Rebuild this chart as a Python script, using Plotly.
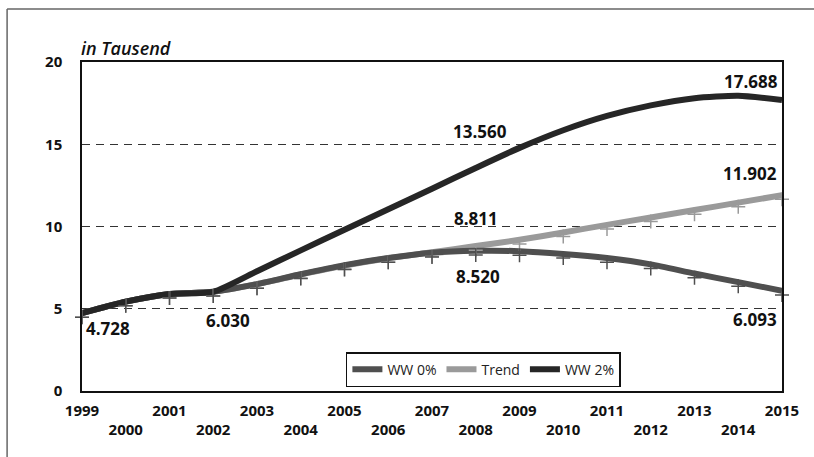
import plotly.graph_objects as go

# ---------------- data ----------------
years = list(range(1999, 2016))
ww0 = [4.728, 5.43, 5.90, 6.030, 6.50, 7.10, 7.65, 8.08, 8.40, 8.520, 8.50, 8.33, 8.08, 7.70, 7.14, 6.62, 6.093]
trend = [4.728, 5.43, 5.90, 6.030, 6.50, 7.08, 7.62, 8.07, 8.43, 8.811, 9.19, 9.64, 10.10, 10.55, 11.00, 11.45, 11.902]
ww2 = [4.728, 5.43, 5.90, 6.030, 7.28, 8.55, 9.80, 11.05, 12.30, 13.560, 14.78, 15.85, 16.72, 17.36, 17.80, 17.95, 17.688]
series_names = ["WW 0%", "Trend", "WW 2%"]
y_tick_vals = [0, 5, 10, 15, 20]
x_tick_labels = [str(y) if (y - 1999) % 2 == 0 else "<br>" + str(y) for y in years]
unit_label = "in Tausend"

# ---------------- style ----------------
FONT = "Open Sans"
C_WW0 = "#4f4f4f"
C_TREND = "#9a9a9a"
C_WW2 = "#262626"
LW = 6

fig = go.Figure()

# plus-shaped markers hanging slightly below the lines (shifted overlay axis)
for vals, col in [(trend, C_TREND), (ww0, C_WW0)]:
    fig.add_trace(go.Scatter(
        x=years, y=vals, mode="markers", yaxis="y2", showlegend=False, hoverinfo="skip",
        marker=dict(symbol="cross-thin", size=10, line=dict(color=col, width=1.5)),
        cliponaxis=False,
    ))

fig.add_trace(go.Scatter(x=years, y=trend, mode="lines", name=series_names[1], legendrank=2,
                         line=dict(color=C_TREND, width=LW, shape="spline", smoothing=0.6)))
fig.add_trace(go.Scatter(x=years, y=ww0, mode="lines", name=series_names[0], legendrank=1,
                         line=dict(color=C_WW0, width=LW, shape="spline", smoothing=0.6)))
fig.add_trace(go.Scatter(x=years, y=ww2, mode="lines", name=series_names[2], legendrank=3,
                         line=dict(color=C_WW2, width=LW, shape="spline", smoothing=0.6)))


def idx(y):
    return years.index(y)


labels = [
    (ww0, 1999, 2, -15, "left"),
    (ww0, 2002, 15, -29, "center"),
    (ww0, 2008, 2, -26, "center"),
    (trend, 2008, 0, 28, "center"),
    (ww2, 2008, 4, 36, "center"),
    (ww2, 2015, -2, 19, "right"),
    (trend, 2015, -3, 22, "right"),
    (ww0, 2015, -3, -29, "right"),
]
annotations = []
for series, yr, xs, ys, xa in labels:
    v = series[idx(yr)]
    annotations.append(dict(
        x=yr, y=v, xref="x", yref="y", text="<b>%.3f</b>" % v, showarrow=False,
        xanchor=xa, yanchor="middle", xshift=xs, yshift=ys,
        font=dict(family=FONT, size=17, color="#111"),
    ))

annotations.append(dict(
    x=0, y=1, xref="paper", yref="paper", text="<i>" + unit_label + "</i>", showarrow=False,
    xanchor="left", yanchor="bottom", yshift=0, xshift=-3,
    font=dict(family=FONT, size=18, color="#111", weight=600),
))

fig.update_layout(
    width=814, height=457,
    margin=dict(l=82, r=32, t=62, b=66),
    paper_bgcolor="white", plot_bgcolor="white",
    showlegend=True,
    legend=dict(
        orientation="h", x=0.377, y=0.118, xanchor="left", yanchor="top",
        bgcolor="white", bordercolor="#111", borderwidth=1.5,
        font=dict(family=FONT, size=14, color="#222"),
        itemwidth=30, tracegroupgap=0,
    ),
    xaxis=dict(
        range=[1999, 2015], tickvals=years, ticktext=x_tick_labels,
        showgrid=False, zeroline=False, automargin=False,
        showline=True, mirror=True, linecolor="#111", linewidth=1.5,
        ticks="", ticklabelstandoff=5,
        tickfont=dict(family=FONT, size=15, color="#111", weight="bold"),
    ),
    yaxis=dict(
        range=[0, 20], tickvals=y_tick_vals, automargin=False,
        showgrid=True, gridcolor="#333", gridwidth=1, griddash="8px,6px",
        zeroline=False,
        showline=True, mirror=True, linecolor="#111", linewidth=1.5,
        ticks="", ticklabelstandoff=15,
        tickfont=dict(family=FONT, size=15, color="#111", weight="bold"),
    ),
    yaxis2=dict(
        range=[0.25, 20.25], overlaying="y", visible=False,
    ),
    annotations=annotations,
    shapes=[
        dict(type="line", xref="paper", yref="paper", x0=-0.107, x1=1.2, y0=1.161, y1=1.161,
             line=dict(color="#666", width=1.5)),
        dict(type="line", xref="paper", yref="paper", x0=-0.107, x1=-0.107, y0=1.161, y1=-0.4,
             line=dict(color="#666", width=1.5)),
    ],
)

fig.write_html(
    "out.html",
    config={"displayModeBar": False},
    post_script="document.body.style.margin='0';document.body.style.overflow='hidden';",
)
